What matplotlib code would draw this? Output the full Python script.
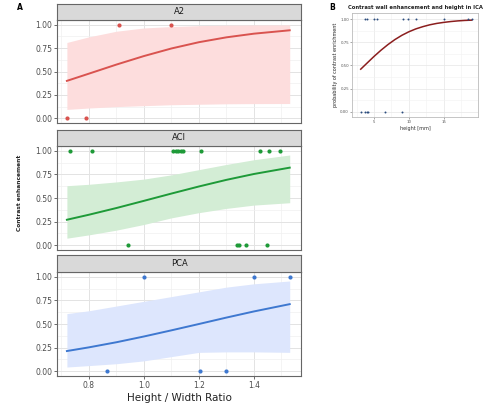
import matplotlib
matplotlib.use("Agg")
import matplotlib.pyplot as plt
from matplotlib.ticker import MultipleLocator

# ---------------- data ----------------
facets = ["A2", "ACI", "PCA"]
fit_x = [0.72, 0.80, 0.90, 1.00, 1.10, 1.20, 1.30, 1.40, 1.53]

a2_fit = [0.40, 0.477, 0.574, 0.665, 0.746, 0.813, 0.865, 0.904, 0.940]
a2_hi = [0.81, 0.87, 0.93, 0.965, 0.98, 0.99, 0.995, 0.997, 0.998]
a2_lo = [0.095, 0.11, 0.125, 0.135, 0.145, 0.15, 0.155, 0.157, 0.158]
a2_pts_x = [0.721, 0.789, 0.909, 1.098]
a2_pts_y = [0, 0, 1, 1]

aci_fit = [0.27, 0.323, 0.394, 0.470, 0.547, 0.622, 0.692, 0.754, 0.821]
aci_hi = [0.63, 0.645, 0.67, 0.70, 0.745, 0.80, 0.855, 0.905, 0.955]
aci_lo = [0.075, 0.11, 0.16, 0.22, 0.29, 0.345, 0.39, 0.425, 0.45]
aci_pts_x = [0.731, 0.81, 1.107, 1.115, 1.125, 1.135, 1.143, 1.206, 1.422, 1.456, 1.495,
             0.943, 1.337, 1.345, 1.37, 1.448]
aci_pts_y = [1, 1, 1, 1, 1, 1, 1, 1, 1, 1, 1,
             0, 0, 0, 0, 0]

pca_fit = [0.214, 0.253, 0.307, 0.368, 0.433, 0.50, 0.568, 0.633, 0.710]
pca_hi = [0.61, 0.64, 0.69, 0.74, 0.79, 0.84, 0.89, 0.925, 0.955]
pca_lo = [0.045, 0.06, 0.08, 0.11, 0.155, 0.20, 0.205, 0.205, 0.20]
pca_pts_x = [1.0, 1.401, 1.531, 0.864, 1.204, 1.298]
pca_pts_y = [1, 1, 1, 0, 0, 0]

x_ticks = [0.8, 1.0, 1.2, 1.4]
y_ticks = [0.0, 0.25, 0.5, 0.75, 1.0]

b_fit_x = [3.1, 4, 5, 6, 7, 8, 9, 10, 11, 12, 13, 14, 15, 16, 17, 18, 19]
b_fit_y = [0.46, 0.525, 0.597, 0.664, 0.725, 0.779, 0.825, 0.863, 0.894, 0.918,
           0.938, 0.953, 0.964, 0.973, 0.980, 0.985, 0.988]
b_pts_x = [3.7, 3.95, 5.05, 5.4, 9.2, 9.9, 11.0, 15.0, 18.5, 19.0,
           3.1, 3.7, 3.95, 4.2, 6.6, 9.0]
b_pts_y = [1, 1, 1, 1, 1, 1, 1, 1, 1, 1,
           0, 0, 0, 0, 0, 0]
b_x_ticks = [5, 10, 15]

# ---------------- styling ----------------
line_cols = ["#D9534F", "#1E9A38", "#3E78D0"]
band_cols = ["#FDDDDD", "#D3EDD5", "#DDE6FD"]

W, H = 500, 407
fig = plt.figure(figsize=(W / 100, H / 100), dpi=100)
fig.patch.set_facecolor("white")

def fx(px):
    return px / W

def fy(py):
    return 1 - py / H

panels = [
    (20, 123, 4),
    (146, 250, 130),
    (272, 376, 255),
]
series = [
    (a2_fit, a2_lo, a2_hi, a2_pts_x, a2_pts_y),
    (aci_fit, aci_lo, aci_hi, aci_pts_x, aci_pts_y),
    (pca_fit, pca_lo, pca_hi, pca_pts_x, pca_pts_y),
]
left, right = 57, 301

for i, (name, (top, bot, stop), (fit, lo, hi, px, py)) in enumerate(zip(facets, panels, series)):
    ax = fig.add_axes([fx(left), fy(bot), fx(right - left), (bot - top) / H])
    ax.set_xlim(0.684, 1.571)
    ax.set_ylim(-0.05, 1.05)
    ax.set_xticks(x_ticks)
    ax.set_yticks(y_ticks)
    ax.xaxis.set_minor_locator(MultipleLocator(0.1))
    ax.yaxis.set_minor_locator(MultipleLocator(0.125))
    ax.grid(True, which="major", color="#E3E3E3", lw=0.7)
    ax.grid(True, which="minor", color="#F0F0F0", lw=0.5)
    ax.set_axisbelow(True)
    ax.tick_params(which="minor", length=0)
    ax.tick_params(which="major", length=2, width=0.6, color="#555555",
                   labelsize=5.5, labelcolor="#4D4D4D", pad=1.5)
    ax.set_yticklabels([f"{v:.2f}" for v in y_ticks])
    if i < 2:
        ax.tick_params(axis="x", labelbottom=False, length=0)
    else:
        ax.set_xticklabels([f"{v:.1f}" for v in x_ticks])
        ax.set_xlabel("Height / Width Ratio", fontsize=7.5, color="#222222", labelpad=2)
    for s in ax.spines.values():
        s.set_color("#666666")
        s.set_linewidth(0.8)
    ax.fill_between(fit_x, lo, hi, color=band_cols[i], lw=0, zorder=1)
    ax.plot(fit_x, fit, color=line_cols[i], lw=1.4, zorder=3)
    ax.scatter(px, py, s=9, color=line_cols[i], zorder=4, linewidths=0, clip_on=False)

    # strip
    sax = fig.add_axes([fx(left), fy(top), fx(right - left), (top - stop) / H])
    sax.set_facecolor("#D9D9D9")
    sax.set_xticks([])
    sax.set_yticks([])
    for s in sax.spines.values():
        s.set_color("#666666")
        s.set_linewidth(0.8)
    sax.text(0.5, 0.5, name, ha="center", va="center", fontsize=6, color="#1A1A1A",
             transform=sax.transAxes)

fig.text(fx(20), fy(193), "Contrast enhancement", rotation=90, ha="center", va="center",
         fontsize=4.2, fontweight="bold", color="#222222")
fig.text(fx(20), fy(7), "A", ha="center", va="center", fontsize=5.5, fontweight="bold")

# ---------------- panel B ----------------
bx = fig.add_axes([fx(352), fy(117), fx(478 - 352), (117 - 13) / H])
bx.set_xlim(1.85, 19.9)
bx.set_ylim(-0.055, 1.065)
bx.set_xticks(b_x_ticks)
bx.set_yticks(y_ticks)
bx.set_yticklabels([f"{v:.2f}" for v in y_ticks])
bx.xaxis.set_minor_locator(MultipleLocator(2.5))
bx.yaxis.set_minor_locator(MultipleLocator(0.125))
bx.grid(True, which="major", color="#E6E6E6", lw=0.5)
bx.grid(True, which="minor", color="#F2F2F2", lw=0.4)
bx.set_axisbelow(True)
bx.tick_params(which="minor", length=0)
bx.tick_params(which="major", length=1.2, width=0.4, color="#666666",
               labelsize=2.8, labelcolor="#555555", pad=1)
for s in bx.spines.values():
    s.set_color("#BBBBBB")
    s.set_linewidth(0.6)
bx.plot(b_fit_x, b_fit_y, color="#8B1E1E", lw=1.1, zorder=3)
bx.scatter(b_pts_x, b_pts_y, s=2, color="#2B4C7E", zorder=4, linewidths=0, clip_on=False)
bx.set_xlabel("height [mm]", fontsize=3.5, color="#333333", labelpad=1.5)
bx.set_ylabel("probability of contrast enrichment", fontsize=3.5, color="#222222", labelpad=1.5)

fig.text(fx(416), fy(7), "Contrast wall enhancement and height in ICA", ha="center",
         va="center", fontsize=3.8, fontweight="bold", color="#222222")
fig.text(fx(332), fy(7), "B", ha="center", va="center", fontsize=5.5, fontweight="bold")

fig.savefig("out.png", dpi=100)
